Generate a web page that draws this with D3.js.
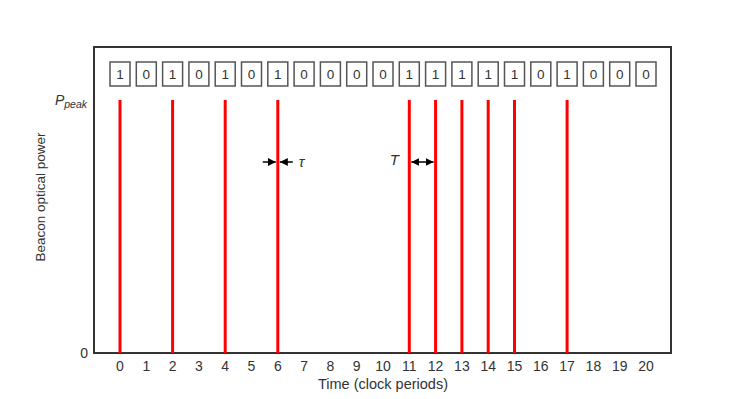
<!DOCTYPE html>
<html>
<head>
<meta charset="utf-8">
<script src="https://cdn.jsdelivr.net/npm/d3@7.9.0/dist/d3.min.js"></script>
<style>
  body { margin: 0; background: #fff; }
  text { font-family: "Liberation Sans", Arial, sans-serif; fill: #333; }
</style>
</head>
<body>
<svg id="chart" width="747" height="399"></svg>
<script>
// bit sequence shown in the boxes, one per clock period
const bits = [1, 0, 1, 0, 1, 0, 1, 0, 0, 0, 0, 1, 1, 1, 1, 1, 0, 1, 0, 0, 0];
const tickLabels = d3.range(0, 21);
const pulseTimes = bits.map((b, i) => b ? i : null).filter(d => d !== null);

const svg = d3.select('#chart');
const frame = { left: 94, right: 671, top: 47, bottom: 353 };

const x = d3.scaleLinear().domain([0, 20]).range([120, 646]);
const y = d3.scaleLinear().domain([0, 1]).range([353, 100]);

// frame
svg.append('rect')
  .attr('x', frame.left).attr('y', frame.top)
  .attr('width', frame.right - frame.left).attr('height', frame.bottom - frame.top)
  .attr('fill', 'none').attr('stroke', '#333').attr('stroke-width', 2);

// pulses
svg.selectAll('line.pulse').data(pulseTimes).join('line')
  .attr('class', 'pulse')
  .attr('x1', d => x(d)).attr('x2', d => x(d))
  .attr('y1', y(0)).attr('y2', y(1))
  .attr('stroke', '#ff0000').attr('stroke-width', 3);

// bit boxes
const box = svg.selectAll('g.bit').data(bits).join('g')
  .attr('class', 'bit')
  .attr('transform', (d, i) => `translate(${x(i)},74)`);
box.append('rect')
  .attr('x', -10).attr('y', -12).attr('width', 20).attr('height', 24)
  .attr('fill', '#fff').attr('stroke', '#555').attr('stroke-width', 1.5);
box.append('text')
  .attr('text-anchor', 'middle').attr('dy', '0.35em')
  .attr('font-size', 13.5)
  .text(d => d);

// x axis labels
svg.selectAll('text.xt').data(tickLabels).join('text')
  .attr('class', 'xt')
  .attr('x', d => x(d)).attr('y', 371)
  .attr('text-anchor', 'middle').attr('font-size', 14)
  .text(d => d);

svg.append('text')
  .attr('x', 383).attr('y', 389)
  .attr('text-anchor', 'middle').attr('font-size', 14.5)
  .text('Time (clock periods)');

// y labels
svg.append('text')
  .attr('x', 88).attr('y', y(0)).attr('dy', '0.35em')
  .attr('text-anchor', 'end').attr('font-size', 14)
  .text('0');

const pk = svg.append('text')
  .attr('x', 87).attr('y', y(1)).attr('dy', '0.35em')
  .attr('text-anchor', 'end').attr('font-size', 14).attr('font-style', 'italic');
pk.append('tspan').text('P');
pk.append('tspan').attr('font-size', 10.5).attr('dy', 3).text('peak');

svg.append('text')
  .attr('transform', 'translate(45,197) rotate(-90)')
  .attr('text-anchor', 'middle').attr('font-size', 13.5)
  .text('Beacon optical power');

// arrow markers
const defs = svg.append('defs');
defs.append('marker')
  .attr('id', 'ah').attr('viewBox', '0 0 10 10')
  .attr('refX', 10).attr('refY', 5)
  .attr('markerWidth', 8).attr('markerHeight', 8)
  .attr('markerUnits', 'userSpaceOnUse')
  .attr('orient', 'auto-start-reverse')
  .append('path').attr('d', 'M0,0L10,5L0,10Z').attr('fill', '#000');

const ay = 162;
// tau: arrows pointing at pulse 6 from both sides
svg.append('line')
  .attr('x1', x(6) - 15).attr('x2', x(6) - 2).attr('y1', ay).attr('y2', ay)
  .attr('stroke', '#000').attr('stroke-width', 1.5).attr('marker-end', 'url(#ah)');
svg.append('line')
  .attr('x1', x(6) + 15).attr('x2', x(6) + 2).attr('y1', ay).attr('y2', ay)
  .attr('stroke', '#000').attr('stroke-width', 1.5).attr('marker-end', 'url(#ah)');
svg.append('text')
  .attr('x', x(6) + 21).attr('y', ay).attr('dy', '0.35em')
  .attr('font-size', 15).attr('font-style', 'italic').style('fill', '#333')
  .text('τ');

// T: double arrow between pulses 11 and 12
svg.append('line')
  .attr('x1', x(11) + 2).attr('x2', x(12) - 2).attr('y1', ay).attr('y2', ay)
  .attr('stroke', '#000').attr('stroke-width', 1.5)
  .attr('marker-start', 'url(#ah)').attr('marker-end', 'url(#ah)');
svg.append('text')
  .attr('x', x(11) - 15).attr('y', ay - 2).attr('dy', '0.35em')
  .attr('text-anchor', 'middle')
  .attr('font-size', 15).attr('font-style', 'italic').style('fill', '#333')
  .text('T');
</script>
</body>
</html>
